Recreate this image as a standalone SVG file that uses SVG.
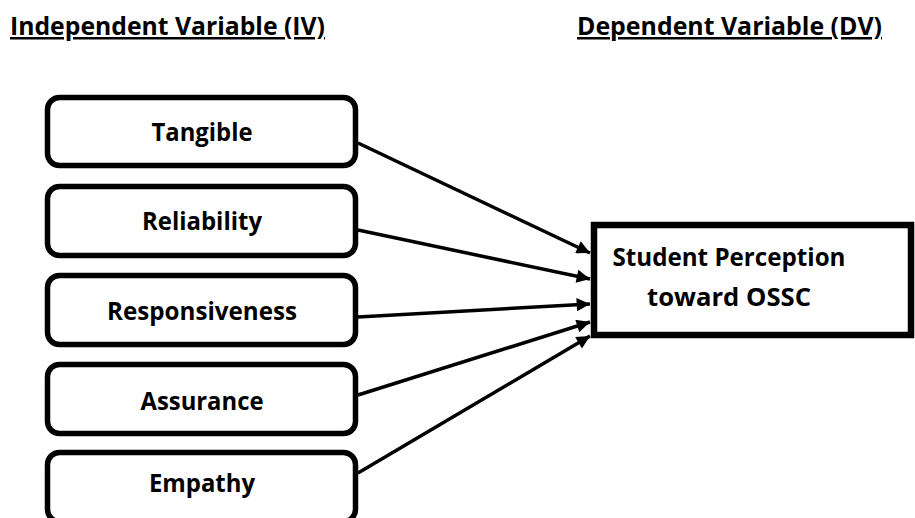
<svg xmlns="http://www.w3.org/2000/svg" width="915" height="518" viewBox="0 0 915 518">
<defs>
<style>
.box{fill:#fff;stroke:#000;stroke-width:5.5}
.dv{fill:#fff;stroke:#000;stroke-width:6.5}
.lbl{font-family:"Open Sans","Liberation Sans",sans-serif;font-weight:bold;font-size:25px;fill:#000;text-anchor:middle}
.hdr{font-family:"Open Sans","Liberation Sans",sans-serif;font-weight:bold;font-size:25px;fill:#000;text-decoration:underline}
.conn{stroke:#000;stroke-width:3.5;fill:none}
</style>
<marker id="ah" viewBox="0 0 10 10" refX="10" refY="5" markerWidth="4.4" markerHeight="3.8" orient="auto" markerUnits="strokeWidth">
<path d="M0,0 L10,5 L0,10 z" fill="#000"/>
</marker>
</defs>
<rect width="915" height="518" fill="#fff"/>
<g id="headers">
<text class="hdr" x="10" y="35" textLength="315" lengthAdjust="spacingAndGlyphs">Independent Variable (IV)</text>
<text class="hdr" x="577" y="35" textLength="305" lengthAdjust="spacingAndGlyphs">Dependent Variable (DV)</text>
</g>
<g id="connectors">
<line class="conn" x1="358" y1="143" x2="590" y2="253" marker-end="url(#ah)"/>
<line class="conn" x1="358" y1="230" x2="590" y2="279" marker-end="url(#ah)"/>
<line class="conn" x1="358" y1="317" x2="590" y2="304" marker-end="url(#ah)"/>
<line class="conn" x1="358" y1="395" x2="590" y2="322" marker-end="url(#ah)"/>
<line class="conn" x1="358" y1="473" x2="590" y2="336" marker-end="url(#ah)"/>
</g>
<g id="tangible">
<rect class="box" x="47.5" y="97.5" width="308" height="68" rx="12"/>
<text class="lbl" x="202" y="141" textLength="101" lengthAdjust="spacingAndGlyphs">Tangible</text>
</g>
<g id="reliability">
<rect class="box" x="47.5" y="186.5" width="308" height="69" rx="12"/>
<text class="lbl" x="202" y="230" textLength="120" lengthAdjust="spacingAndGlyphs">Reliability</text>
</g>
<g id="responsiveness">
<rect class="box" x="47.5" y="275.5" width="308" height="69" rx="12"/>
<text class="lbl" x="202" y="320" textLength="190" lengthAdjust="spacingAndGlyphs">Responsiveness</text>
</g>
<g id="assurance">
<rect class="box" x="47.5" y="364.5" width="308" height="69" rx="12"/>
<text class="lbl" x="202" y="410" textLength="123" lengthAdjust="spacingAndGlyphs">Assurance</text>
</g>
<g id="empathy">
<rect class="box" x="47.5" y="452.5" width="308" height="69" rx="12"/>
<text class="lbl" x="202" y="492" textLength="106" lengthAdjust="spacingAndGlyphs">Empathy</text>
</g>
<g id="student-perception">
<rect class="dv" x="594" y="225" width="317" height="110"/>
<text class="lbl" x="729" y="266" textLength="233" lengthAdjust="spacingAndGlyphs">Student Perception</text>
<text class="lbl" x="729" y="306" textLength="164" lengthAdjust="spacingAndGlyphs">toward OSSC</text>
</g>
</svg>
